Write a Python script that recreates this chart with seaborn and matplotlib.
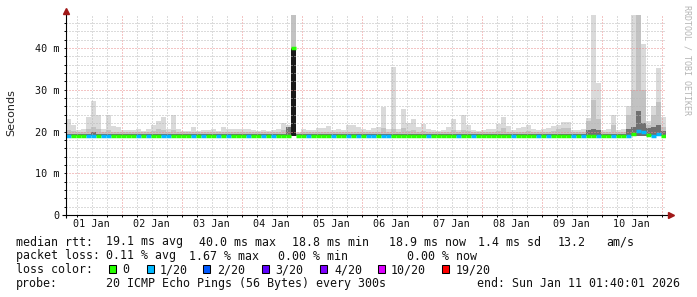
import matplotlib
matplotlib.use("Agg")
import matplotlib.pyplot as plt
from matplotlib.patches import Rectangle
import numpy as np
import pandas as pd
import seaborn as sns

# ---------------- data (2-hour bins starting 2026-01-01 01:40) ----------------
start_time = "2026-01-01 01:40"
bin_hours = 2
day_labels = ["01 Jan", "02 Jan", "03 Jan", "04 Jan", "05 Jan",
              "06 Jan", "07 Jan", "08 Jan", "09 Jan", "10 Jan"]
y_tick_values = [0, 10, 20, 30, 40]
y_tick_labels = ["0", "10 m", "20 m", "30 m", "40 m"]

median_ms = [19.0] * 45 + [40.0] + [19.0] * 67 + [19.3, 20.2, 20.0, 19.2, 19.0, 19.4, 19.0]

smoke_max = [
    23.0, 21.6, 20.3, 20.5, 23.5, 27.3, 24.0, 20.6, 24.0, 21.2, 21.0, 20.3,
    20.3, 20.3, 20.6, 20.2, 20.6, 21.6, 22.5, 23.5, 20.6, 24.0, 20.6, 20.2,
    20.2, 21.0, 20.2, 20.3, 20.3, 20.5, 20.2, 21.0, 20.6, 20.7, 20.7, 20.5,
    20.5, 20.3, 20.2, 20.3, 20.2, 20.4, 20.6, 22.0, 21.5, 48.5, 19.8, 20.5,
    20.3, 20.3, 20.8, 20.8, 21.2, 20.3, 20.5, 20.3, 21.6, 21.6, 21.0, 20.5,
    20.4, 20.8, 21.0, 25.8, 20.6, 35.5, 20.6, 25.4, 22.0, 23.0, 21.0, 21.8,
    20.5, 20.3, 20.2, 20.3, 21.0, 23.0, 20.4, 24.0, 21.6, 20.3, 20.2, 20.3,
    20.5, 20.5, 21.8, 23.5, 21.2, 20.4, 20.8, 21.0, 21.6, 20.5, 20.3, 20.5,
    20.8, 21.2, 21.6, 22.3, 22.3, 20.3, 20.3, 20.5, 23.2, 48.5, 31.6, 20.3,
    20.5, 24.0, 20.3, 20.6, 26.0, 48.5, 48.5, 41.0, 22.5, 26.0, 35.2, 23.5,
]
smoke_mid = [
    20.3, 20.1, 19.8, 19.9, 20.5, 21.0, 20.5, 19.9, 20.3, 20.0, 20.0, 19.8,
    19.8, 19.8, 19.9, 19.8, 19.9, 20.1, 20.5, 20.3, 19.9, 20.3, 19.9, 19.8,
    19.8, 20.0, 19.8, 19.8, 19.8, 19.9, 19.8, 20.0, 19.9, 19.9, 19.9, 19.9,
    19.9, 19.8, 19.8, 19.8, 19.8, 19.9, 19.9, 20.3, 21.0, 48.5, 19.6, 20.0,
    19.8, 19.8, 19.9, 19.9, 20.0, 19.8, 19.9, 19.8, 20.0, 20.0, 19.9, 19.9,
    19.8, 19.9, 20.0, 20.8, 19.9, 20.6, 19.9, 20.8, 20.2, 20.3, 20.0, 20.1,
    19.9, 19.8, 19.8, 19.8, 20.0, 20.3, 19.8, 20.3, 20.1, 19.8, 19.8, 19.8,
    19.9, 19.9, 20.2, 20.8, 20.0, 19.8, 19.9, 20.0, 20.1, 19.9, 19.8, 19.9,
    20.0, 20.1, 20.5, 20.8, 20.8, 19.8, 19.8, 19.9, 22.5, 27.5, 23.0, 19.8,
    19.9, 21.5, 19.8, 20.0, 24.0, 30.0, 48.5, 30.0, 21.5, 24.0, 27.0, 21.0,
]
smoke_dark = (
    [19.4] * 5 + [19.8] + [19.4] * 38 + [21.0, 40.0] + [19.4] * 58
    + [20.3, 20.6, 20.4] + [19.4] * 5
    + [20.6, 21.0, 25.0, 22.0, 20.8, 21.0, 21.5, 20.2]
)
smoke_low = [19.0] * 120

lost_pings = [
    1, 0, 0, 0, 1, 1, 0, 1, 1, 0, 0, 0,
    0, 0, 1, 0, 1, 0, 0, 1, 1, 0, 0, 0,
    0, 1, 0, 1, 0, 0, 1, 0, 1, 0, 0, 0,
    1, 0, 0, 1, 0, 1, 0, 0, 0, 0, 0, 0,
    1, 0, 0, 0, 0, 1, 0, 0, 1, 0, 1, 0,
    1, 1, 0, 1, 1, 0, 0, 0, 0, 0, 0, 0,
    1, 0, 0, 0, 0, 0, 1, 0, 0, 1, 0, 0,
    0, 0, 0, 0, 0, 1, 0, 0, 0, 0, 1, 0,
    1, 0, 0, 0, 0, 1, 0, 1, 0, 0, 1, 0,
    0, 1, 0, 0, 1, 0, 1, 1, 0, 1, 1, 0,
]

loss_levels = [0, 1, 2, 3, 4, 10, 19]
loss_level_labels = ["0", "1/20", "2/20", "3/20", "4/20", "10/20", "19/20"]
loss_level_colors = ["#26ff00", "#00b8ff", "#0059ff", "#5e00ff", "#7e00ff", "#dd00ff", "#ff0000"]

# ---------------- frame ----------------
t0 = pd.Timestamp(start_time)
times = pd.date_range(t0, periods=len(smoke_max), freq=f"{bin_hours}h")
df = pd.DataFrame({
    "time": times,
    "median": median_ms,
    "low": smoke_low,
    "dark": smoke_dark,
    "mid": smoke_mid,
    "max": smoke_max,
    "loss": lost_pings,
})
origin = pd.Timestamp("2026-01-01 00:00")
df["h"] = (df["time"] - origin) / pd.Timedelta(hours=1)


def loss_color(n):
    c = loss_level_colors[0]
    for lv, col in zip(loss_levels, loss_level_colors):
        if n >= lv:
            c = col
    return c


df["lcolor"] = df["loss"].map(loss_color)

# ---------------- figure ----------------
sns.set_theme(style="white")
plt.rcParams["font.family"] = ["DejaVu Sans"]
W, H = 697, 297
fig = plt.figure(figsize=(W / 100, H / 100), dpi=100)
fig.patch.set_facecolor("white")
L, R, B = 66, 666, 215
ymax = 48.0
px_per_ms = 4.175
T = B - ymax * px_per_ms
ax = fig.add_axes([L / W, 1 - B / H, (R - L) / W, (B - T) / H])
ax.set_facecolor("white")
x0 = (t0 - origin) / pd.Timedelta(hours=1)
ax.set_xlim(x0, x0 + 240)
ax.set_ylim(0, ymax)

# smoke
ax.bar(df["h"], df["max"] - df["low"], bottom=df["low"], width=bin_hours, align="edge",
       color="#dadada", linewidth=0, antialiased=False, zorder=1)
ax.bar(df["h"], df["mid"] - df["low"], bottom=df["low"], width=bin_hours, align="edge",
       color="#c2c2c2", linewidth=0, antialiased=False, zorder=1.1)
dark_cols = ["#1a1a1a" if v >= 30 else "#707070" for v in df["dark"]]
ax.bar(df["h"], df["dark"] - df["low"], bottom=df["low"], width=bin_hours, align="edge",
       color=dark_cols, linewidth=0, antialiased=False, zorder=1.2)

# grid (dotted, rrdtool style)
dot = (0, (1, 2))
for hh in range(6, 242, 6):
    col = "#e98a8a" if hh % 24 == 0 else "#b8b8b8"
    ax.axvline(hh, color=col, lw=0.72, ls=dot, zorder=1.5)
for yy in range(2, 48, 2):
    col = "#e98a8a" if yy % 10 == 0 else "#b8b8b8"
    ax.axhline(yy, color=col, lw=0.72, ls=dot, zorder=1.5)

# median line coloured by loss
ax.hlines(df["median"], df["h"], df["h"] + bin_hours, colors=df["lcolor"],
          linewidth=2.5, zorder=3, capstyle="butt")

# axes / ticks
for s in ax.spines.values():
    s.set_visible(False)
ax.set_xticks([12 + 24 * k for k in range(len(day_labels))])
ax.set_xticklabels(day_labels)
ax.set_xticks(list(range(6, 242, 6)), minor=True)
ax.set_yticks(y_tick_values)
ax.set_yticklabels(y_tick_labels)
ax.set_yticks(list(range(0, 48, 2)), minor=True)
ax.tick_params(axis="x", which="major", length=0, pad=2.6, labelsize=7.3, colors="#111111")
ax.tick_params(axis="x", which="minor", length=1.6, width=0.7, color="black", direction="out", bottom=True)
ax.tick_params(axis="y", which="major", length=1.6, width=0.7, pad=2.8, labelsize=7.3,
               colors="#111111", direction="out", left=True)
ax.tick_params(axis="y", which="minor", length=1.6, width=0.7, color="black", direction="out", left=True)
for lab in ax.get_xticklabels() + ax.get_yticklabels():
    lab.set_family("DejaVu Sans Mono")
ax.grid(False)

# axis lines with arrows
axh = B - T
ax.plot([-4 / 600, 1 + 3 / 600], [0, 0], transform=ax.transAxes, color="black",
        lw=0.8, clip_on=False, zorder=4, solid_capstyle="butt")
ax.plot([0, 0], [-3 / axh, 1 + 1.5 / axh], transform=ax.transAxes, color="black",
        lw=0.8, clip_on=False, zorder=4, solid_capstyle="butt")
ax.plot([1 + 5 / 600], [0], marker=">", ms=4.2, color="#a01818", mec="#a01818",
        transform=ax.transAxes, clip_on=False, zorder=5)
ax.plot([0], [1 + 4 / axh], marker="^", ms=4.2, color="#a01818", mec="#a01818",
        transform=ax.transAxes, clip_on=False, zorder=5)

# labels
fig.text(11 / W, 1 - 113 / H, "Seconds", rotation=90, ha="center", va="center",
         fontsize=8, color="#222222", family="DejaVu Sans")
fig.text(687 / W, 1 - 60 / H, "RRDTOOL / TOBI OETIKER", rotation=270, ha="center",
         va="center", fontsize=6, color="#b4b4b4", family="DejaVu Sans Mono")

mono = dict(family="DejaVu Sans Mono", fontsize=8.4, color="#111111", va="baseline", ha="left")


def put(x, y, s):
    fig.text(x / W, 1 - y / H, s, **mono)


rows = [
    (245.5, [(16, "median rtt:"), (106, "19.1 ms avg"), (199, "40.0 ms max"),
             (292, "18.8 ms min"), (389, "18.9 ms now"), (478, "1.4 ms sd"),
             (557.5, "13.2"), (606.5, "am/s")]),
    (259.5, [(16, "packet loss:"), (106, "0.11 % avg"), (189.5, "1.67 % max"),
             (278, "0.00 % min"), (407, "0.00 % now")]),
    (287.2, [(16, "probe:"), (106, "20 ICMP Echo Pings (56 Bytes) every 300s"),
             (477, "end: Sun Jan 11 01:40:01 2026")]),
]
for y, items in rows:
    for x, s in items:
        put(x, y, s)

put(16, 273.3, "loss color:")
square_x = [108.5, 146.5, 203, 261.5, 320, 378, 441.5]
label_x = [122, 159.5, 217, 275.5, 334, 391, 455.5]
for sx, lx, lab, col in zip(square_x, label_x, loss_level_labels, loss_level_colors):
    fig.add_artist(Rectangle((sx / W, 1 - 273 / H), 7 / W, 8 / H, transform=fig.transFigure,
                             facecolor=col, edgecolor="black", lw=0.75))
    put(lx, 273.3, lab)

fig.savefig("out.png", dpi=100, facecolor="white")
